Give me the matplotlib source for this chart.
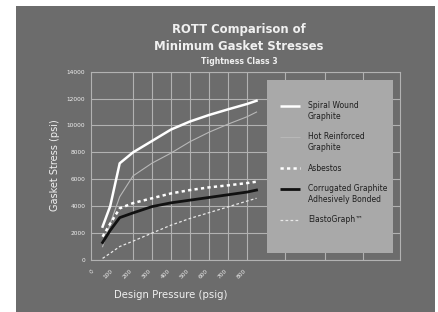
import matplotlib
matplotlib.use("Agg")
import matplotlib.pyplot as plt
from matplotlib.patches import Rectangle

# ---- data ----
pressure = [40, 80, 130, 200, 300, 400, 500, 600, 700, 800, 850]
spiral_wound = [2480, 4000, 7190, 8000, 8850, 9700, 10300, 10780, 11200, 11600, 11840]
hot_reinforced = [990, 2700, 4700, 6250, 7200, 7950, 8800, 9500, 10100, 10650, 11000]
asbestos = [1730, 2700, 3840, 4230, 4590, 4950, 5200, 5400, 5550, 5720, 5820]
corrugated = [1300, 2200, 3150, 3500, 3970, 4250, 4450, 4650, 4850, 5050, 5200]
elastograph = [120, 500, 1000, 1400, 2000, 2590, 3090, 3520, 3950, 4380, 4590]

x_ticks = [0, 100, 200, 300, 400, 500, 600, 700, 800]
x_tick_labels = ["0", "100", "200", "300", "400", "500", "600", "700", "800"]
y_ticks = [0, 2000, 4000, 6000, 8000, 10000, 12000, 14000]
y_tick_labels = ["0", "2000", "4000", "6000", "8000", "10000", "12000", "14000"]
x_grid = [200, 300, 400, 500, 600, 700, 800, 1000, 1210, 1410]

series_labels = ["Spiral Wound\nGraphite", "Hot Reinforced\nGraphite", "Asbestos",
                 "Corrugated Graphite\nAdhesively Bonded", "ElastoGraph\u2122"]

BG = "#6c6c6c"
GRID = "#b2b2b2"
LEG = "#a9a9a9"
TXT = "#f0f0f0"

W, H = 439, 312
fig = plt.figure(figsize=(W / 100, H / 100), dpi=100, facecolor="white")
fig.patches.append(Rectangle((16 / W, 0), (435 - 16) / W, (312 - 6) / H,
                             transform=fig.transFigure, facecolor=BG,
                             edgecolor="none", zorder=-5))

ax = fig.add_axes([91 / W, (312 - 260) / H, (400 - 91) / W, (260 - 71.7) / H])
ax.set_zorder(2)
ax.set_facecolor(BG)
ax.set_xlim(-21, 1605)
ax.set_ylim(0, 14000)

for s in ax.spines.values():
    s.set_color(GRID)
    s.set_linewidth(0.8)

ax.set_yticks(y_ticks)
ax.set_yticklabels(y_tick_labels, fontsize=4.2, color=TXT)
ax.set_xticks(x_ticks)
ax.set_xticklabels(x_tick_labels, fontsize=4.2, color=TXT, rotation=45, ha="right")
ax.tick_params(axis="y", length=0, pad=4)
ax.tick_params(axis="x", length=0, pad=6)
ax.yaxis.grid(True, color=GRID, linewidth=0.8)
for gx in x_grid:
    ax.axvline(gx, color=GRID, linewidth=0.8, zorder=0.5)
ax.set_axisbelow(True)

styles = [
    dict(color="white", lw=1.8, ls="-"),
    dict(color="#b8b8b8", lw=0.8, ls="-"),
    dict(color="white", lw=1.8, ls=(0, (1.3, 1.3))),
    dict(color="#111111", lw=2.0, ls="-"),
    dict(color="#e8e8e8", lw=0.9, ls=(0, (2.2, 1.8))),
]
data = [spiral_wound, hot_reinforced, asbestos, corrugated, elastograph]
for vals, st in zip(data, styles):
    ax.plot(pressure, vals, color=st["color"], lw=st["lw"], linestyle=st["ls"], zorder=3)

# legend box
ax.add_patch(Rectangle((0.569, 0.036), 0.409, 0.92, transform=ax.transAxes,
                       facecolor=LEG, edgecolor="none", zorder=4))
sample_y = [106, 136.7, 168.3, 189, 220]
text_y = [111.3, 142, 168.3, 194.2, 220]
for st, lab, sy, ty in zip(styles, series_labels, sample_y, text_y):
    ya = (260 - sy) / 188.3
    ax.plot([0.612, 0.676], [ya, ya], transform=ax.transAxes, color=st["color"],
            lw=st["lw"], linestyle=st["ls"], zorder=5, solid_capstyle="butt")
    ax.text(0.702, (260 - ty) / 188.3, lab, transform=ax.transAxes, fontsize=5.5,
            color="#1e1e1e", va="center", ha="left", zorder=6, linespacing=1.3)

# titles
fig.text(239 / W, 1 - 29 / H, "ROTT Comparison of", ha="center", va="center",
         fontsize=8.4, fontweight="bold", color=TXT)
fig.text(239 / W, 1 - 46.5 / H, "Minimum Gasket Stresses", ha="center", va="center",
         fontsize=8.4, fontweight="bold", color=TXT)
fig.text(239 / W, 1 - 61 / H, "Tightness Class 3", ha="center", va="center",
         fontsize=5.6, fontweight="bold", color=TXT)
fig.text(55 / W, 1 - 165.5 / H, "Gasket Stress (psi)", rotation=90, ha="center",
         va="center", fontsize=7, color=TXT)
fig.text(171 / W, 1 - 295 / H, "Design Pressure (psig)", ha="center", va="center",
         fontsize=7.3, color=TXT)

fig.savefig("out.png", dpi=100, facecolor=fig.get_facecolor())
